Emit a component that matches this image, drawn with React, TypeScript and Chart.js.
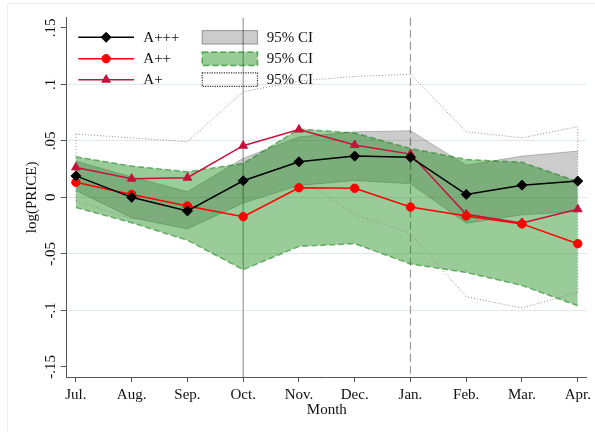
import React, { useEffect, useRef } from 'react';
import { Chart, registerables } from 'chart.js';

Chart.register(...registerables);

// ---------- data ----------
const months = ['Jul.', 'Aug.', 'Sep.', 'Oct.', 'Nov.', 'Dec.', 'Jan.', 'Feb.', 'Mar.', 'Apr.'];
const yTickValues = [-0.15, -0.1, -0.05, 0, 0.05, 0.1, 0.15];
const yTickLabels = ['-.15', '-.1', '-.05', '0', '.05', '.1', '.15'];
const solidLineMonth = 'Oct.';
const dashedLineMonth = 'Jan.';

// A+++ (black diamonds) and its 95% CI (gray band)
const aTriple = [0.019, 0.0, -0.012, 0.0147, 0.0315, 0.0365, 0.0355, 0.0026, 0.0108, 0.0144];
const aTripleLo = [0.006, -0.018, -0.028, -0.005, 0.0105, 0.015, 0.012, -0.023, -0.0155, -0.0125];
const aTripleHi = [0.032, 0.018, 0.005, 0.0345, 0.0535, 0.058, 0.059, 0.0285, 0.0365, 0.041];

// A++ (red circles) and its 95% CI (green band)
const aDouble = [0.0133, 0.0026, -0.0077, -0.0171, 0.0085, 0.008, -0.0086, -0.0165, -0.0235, -0.041];
const aDoubleLo = [-0.009, -0.0225, -0.038, -0.064, -0.0435, -0.041, -0.059, -0.0665, -0.078, -0.096];
const aDoubleHi = [0.036, 0.0277, 0.0227, 0.03, 0.0604, 0.057, 0.0433, 0.0336, 0.031, 0.014];

// A+ (crimson triangles) and its 95% CI (dotted outline)
const aSingle = [0.0265, 0.0165, 0.0174, 0.0457, 0.06, 0.0463, 0.0383, -0.015, -0.0226, -0.0106];
const aSingleLo = [-0.003, -0.019, -0.0136, -0.0024, 0.0174, -0.0152, -0.032, -0.088, -0.098, -0.084];
const aSingleHi = [0.056, 0.0527, 0.0492, 0.0935, 0.103, 0.107, 0.109, 0.058, 0.0527, 0.0625];

const seriesLabels = ['A+++', 'A++', 'A+'];
const ciLabel = '95% CI';

// ---------- styles ----------
const SERIF = "'Liberation Serif', 'Times New Roman', Times, serif";
const TEXT = '#111';
const AXIS = '#555';
const BLACK = '#000000';
const RED = '#ff0000';
const CRIMSON = '#c8103c';
const GRAY_FILL = 'rgba(0,0,0,0.2)';
const GRAY_LINE = 'rgba(0,0,0,0.22)';
const GREEN_FILL = 'rgba(0,128,0,0.4)';
const GREEN_LINE = 'rgba(0,120,0,0.5)';
const DOT_LINE = '#8c8c8c';

const pts = (arr: number[]) => arr.map((y, i) => ({ x: i, y }));

function drawMarker(ctx: CanvasRenderingContext2D, style: string, x: number, y: number, r: number, color: string) {
  ctx.save();
  ctx.fillStyle = color;
  ctx.strokeStyle = color;
  ctx.lineWidth = 1;
  ctx.beginPath();
  if (style === 'diamond') {
    ctx.moveTo(x - r, y);
    ctx.lineTo(x, y - r);
    ctx.lineTo(x + r, y);
    ctx.lineTo(x, y + r);
    ctx.closePath();
  } else if (style === 'circle') {
    ctx.arc(x, y, r, 0, Math.PI * 2);
  } else {
    ctx.moveTo(x, y - r);
    ctx.lineTo(x + r * 0.866, y + r / 2);
    ctx.lineTo(x - r * 0.866, y + r / 2);
    ctx.closePath();
  }
  ctx.fill();
  ctx.stroke();
  ctx.restore();
}

const framePlugin = {
  id: 'frame',
  beforeDraw(chart: any) {
    const { ctx, width, height } = chart;
    ctx.save();
    ctx.strokeStyle = '#eceff0';
    ctx.lineWidth = 1;
    ctx.beginPath();
    ctx.moveTo(7.5, height);
    ctx.lineTo(7.5, 3.5);
    ctx.lineTo(width, 3.5);
    ctx.stroke();
    ctx.restore();
  },
};

const xLinesPlugin = {
  id: 'xlines',
  beforeDatasetsDraw(chart: any) {
    const { ctx, chartArea, scales } = chart;
    const xs = scales.x;
    const drawV = (idx: number, dash: number[]) => {
      const px = xs.getPixelForValue(idx);
      ctx.save();
      ctx.strokeStyle = 'rgba(120,120,120,0.75)';
      ctx.lineWidth = 1.2;
      ctx.setLineDash(dash);
      ctx.beginPath();
      ctx.moveTo(px, chartArea.top);
      ctx.lineTo(px, chartArea.bottom);
      ctx.stroke();
      ctx.restore();
    };
    drawV(months.indexOf(solidLineMonth), []);
    drawV(months.indexOf(dashedLineMonth), [8, 4]);
  },
};

const legendPlugin = {
  id: 'customLegend',
  afterDatasetsDraw(chart: any) {
    const { ctx, chartArea } = chart;
    const L = chartArea.left;
    const T = chartArea.top;
    const rows = [T + 19.6, T + 41, T + 62];
    const seriesStyles = [
      { color: BLACK, marker: 'diamond', r: 5 },
      { color: RED, marker: 'circle', r: 4.2 },
      { color: CRIMSON, marker: 'triangle', r: 5 },
    ];
    ctx.save();
    ctx.font = `15px ${SERIF}`;
    ctx.textBaseline = 'middle';
    ctx.textAlign = 'left';
    seriesStyles.forEach((s, i) => {
      const y = rows[i];
      ctx.strokeStyle = s.color;
      ctx.lineWidth = 1.5;
      ctx.setLineDash([]);
      ctx.beginPath();
      ctx.moveTo(L + 11.6, y);
      ctx.lineTo(L + 67.3, y);
      ctx.stroke();
      drawMarker(ctx, s.marker, L + 39.4, y, s.r, s.color);
      ctx.fillStyle = TEXT;
      ctx.fillText(seriesLabels[i], L + 76.6, y + 0.5);
    });
    // CI boxes
    const bx = L + 135.5;
    const bw = 55.3;
    const bh = 13.5;
    // gray
    ctx.fillStyle = GRAY_FILL;
    ctx.fillRect(bx, rows[0] - bh / 2, bw, bh);
    ctx.strokeStyle = 'rgba(0,0,0,0.3)';
    ctx.lineWidth = 1.2;
    ctx.setLineDash([]);
    ctx.strokeRect(bx, rows[0] - bh / 2, bw, bh);
    // green
    ctx.fillStyle = GREEN_FILL;
    ctx.fillRect(bx, rows[1] - bh / 2, bw, bh);
    ctx.strokeStyle = 'rgba(0,128,0,0.6)';
    ctx.lineWidth = 1.5;
    ctx.setLineDash([6, 3]);
    ctx.strokeRect(bx, rows[1] - bh / 2, bw, bh);
    // dotted
    ctx.strokeStyle = '#333';
    ctx.lineWidth = 1.2;
    ctx.setLineDash([1.2, 1.2]);
    ctx.strokeRect(bx, rows[2] - bh / 2, bw, bh);
    ctx.setLineDash([]);
    ctx.fillStyle = TEXT;
    rows.forEach((y) => ctx.fillText(ciLabel, L + 200, y + 0.5));
    ctx.restore();
  },
};

export default function App() {
  const canvasRef = useRef<HTMLCanvasElement | null>(null);

  useEffect(() => {
    if (!canvasRef.current) return;
    const font = { family: SERIF, size: 15 };
    const seriesBase = { borderWidth: 1.5, pointBorderWidth: 1, fill: false, tension: 0 };
    const dotted = {
      borderColor: DOT_LINE,
      borderWidth: 1,
      borderDash: [1, 2],
      pointRadius: 0,
      fill: false,
      order: 3,
    };
    const chart = new Chart(canvasRef.current, {
      type: 'line',
      data: {
        datasets: [
          {
            ...seriesBase,
            label: seriesLabels[0],
            data: pts(aTriple),
            borderColor: BLACK,
            backgroundColor: BLACK,
            pointStyle: 'rectRot',
            pointRadius: 5,
            order: 0,
          },
          {
            ...seriesBase,
            label: seriesLabels[1],
            data: pts(aDouble),
            borderColor: RED,
            backgroundColor: RED,
            pointStyle: 'circle',
            pointRadius: 4.2,
            order: 1,
          },
          {
            ...seriesBase,
            label: seriesLabels[2],
            data: pts(aSingle),
            borderColor: CRIMSON,
            backgroundColor: CRIMSON,
            pointStyle: 'triangle',
            pointRadius: 5,
            order: 2,
          },
          { ...dotted, label: 'A+ CI hi', data: pts(aSingleHi) },
          { ...dotted, label: 'A+ CI lo', data: pts(aSingleLo) },
          {
            ...dotted,
            label: 'A+ CI left',
            data: [
              { x: 0, y: aSingleLo[0] },
              { x: 0, y: aSingleHi[0] },
            ],
          },
          {
            ...dotted,
            label: 'A+ CI right',
            data: [
              { x: months.length - 1, y: aSingleLo[months.length - 1] },
              { x: months.length - 1, y: aSingleHi[months.length - 1] },
            ],
          },
          {
            label: 'A++ CI hi',
            data: pts(aDoubleHi),
            borderColor: GREEN_LINE,
            borderWidth: 1.5,
            borderDash: [6, 3],
            backgroundColor: GREEN_FILL,
            pointRadius: 0,
            fill: '+1',
            order: 4,
          },
          {
            label: 'A++ CI lo',
            data: pts(aDoubleLo),
            borderColor: GREEN_LINE,
            borderWidth: 1.5,
            borderDash: [6, 3],
            pointRadius: 0,
            fill: false,
            order: 4,
          },
          {
            label: 'A+++ CI hi',
            data: pts(aTripleHi),
            borderColor: GRAY_LINE,
            borderWidth: 1,
            backgroundColor: GRAY_FILL,
            pointRadius: 0,
            fill: '+1',
            order: 5,
          },
          {
            label: 'A+++ CI lo',
            data: pts(aTripleLo),
            borderColor: GRAY_LINE,
            borderWidth: 1,
            pointRadius: 0,
            fill: false,
            order: 5,
          },
        ],
      },
      options: {
        animation: false,
        responsive: false,
        maintainAspectRatio: false,
        devicePixelRatio: 1,
        layout: { padding: { top: 17.7, right: 7, left: 0, bottom: 0 } },
        plugins: {
          legend: { display: false },
          tooltip: { enabled: false },
        },
        scales: {
          x: {
            type: 'linear',
            min: -0.165,
            max: months.length - 1 + 0.165,
            afterBuildTicks: (s: any) => {
              s.ticks = months.map((_, i) => ({ value: i }));
            },
            afterFit: (s: any) => {
              s.height = 55;
            },
            ticks: {
              callback: (_v: any, i: number) => months[i],
              font,
              color: TEXT,
              padding: 4,
              minRotation: 0,
              maxRotation: 0,
              autoSkip: false,
            },
            grid: {
              drawOnChartArea: false,
              drawTicks: true,
              tickLength: 5,
              tickColor: AXIS,
              tickWidth: 1,
            },
            border: { display: true, color: AXIS, width: 1 },
            title: {
              display: true,
              text: 'Month',
              font,
              color: TEXT,
              padding: { top: 0, bottom: 13 },
            },
          },
          y: {
            type: 'linear',
            min: -0.159,
            max: 0.159,
            afterBuildTicks: (s: any) => {
              s.ticks = yTickValues.map((v) => ({ value: v }));
            },
            afterFit: (s: any) => {
              s.width = 66.7;
            },
            ticks: {
              callback: (_v: any, i: number) => yTickLabels[i],
              font,
              color: TEXT,
              minRotation: 90,
              maxRotation: 90,
              crossAlign: 'center',
              padding: -2,
              autoSkip: false,
            },
            grid: {
              color: (c: any) =>
                c.tick && Math.abs(c.tick.value) < 0.12 ? '#dfe9ec' : 'rgba(0,0,0,0)',
              drawTicks: true,
              tickLength: 6,
              tickColor: AXIS,
              tickWidth: 1,
              lineWidth: 1,
            },
            border: { display: true, color: AXIS, width: 1 },
            title: {
              display: true,
              text: 'log(PRICE)',
              font,
              color: TEXT,
              padding: { top: 23, bottom: 0 },
            },
          },
        },
      } as any,
      plugins: [framePlugin, xLinesPlugin, legendPlugin],
    });
    return () => chart.destroy();
  }, []);

  return (
    <div style={{ position: 'absolute', left: 0, top: 0, width: 595, height: 432, background: '#fff' }}>
      <canvas ref={canvasRef} width={595} height={432} style={{ width: 595, height: 432, display: 'block' }} />
    </div>
  );
}
